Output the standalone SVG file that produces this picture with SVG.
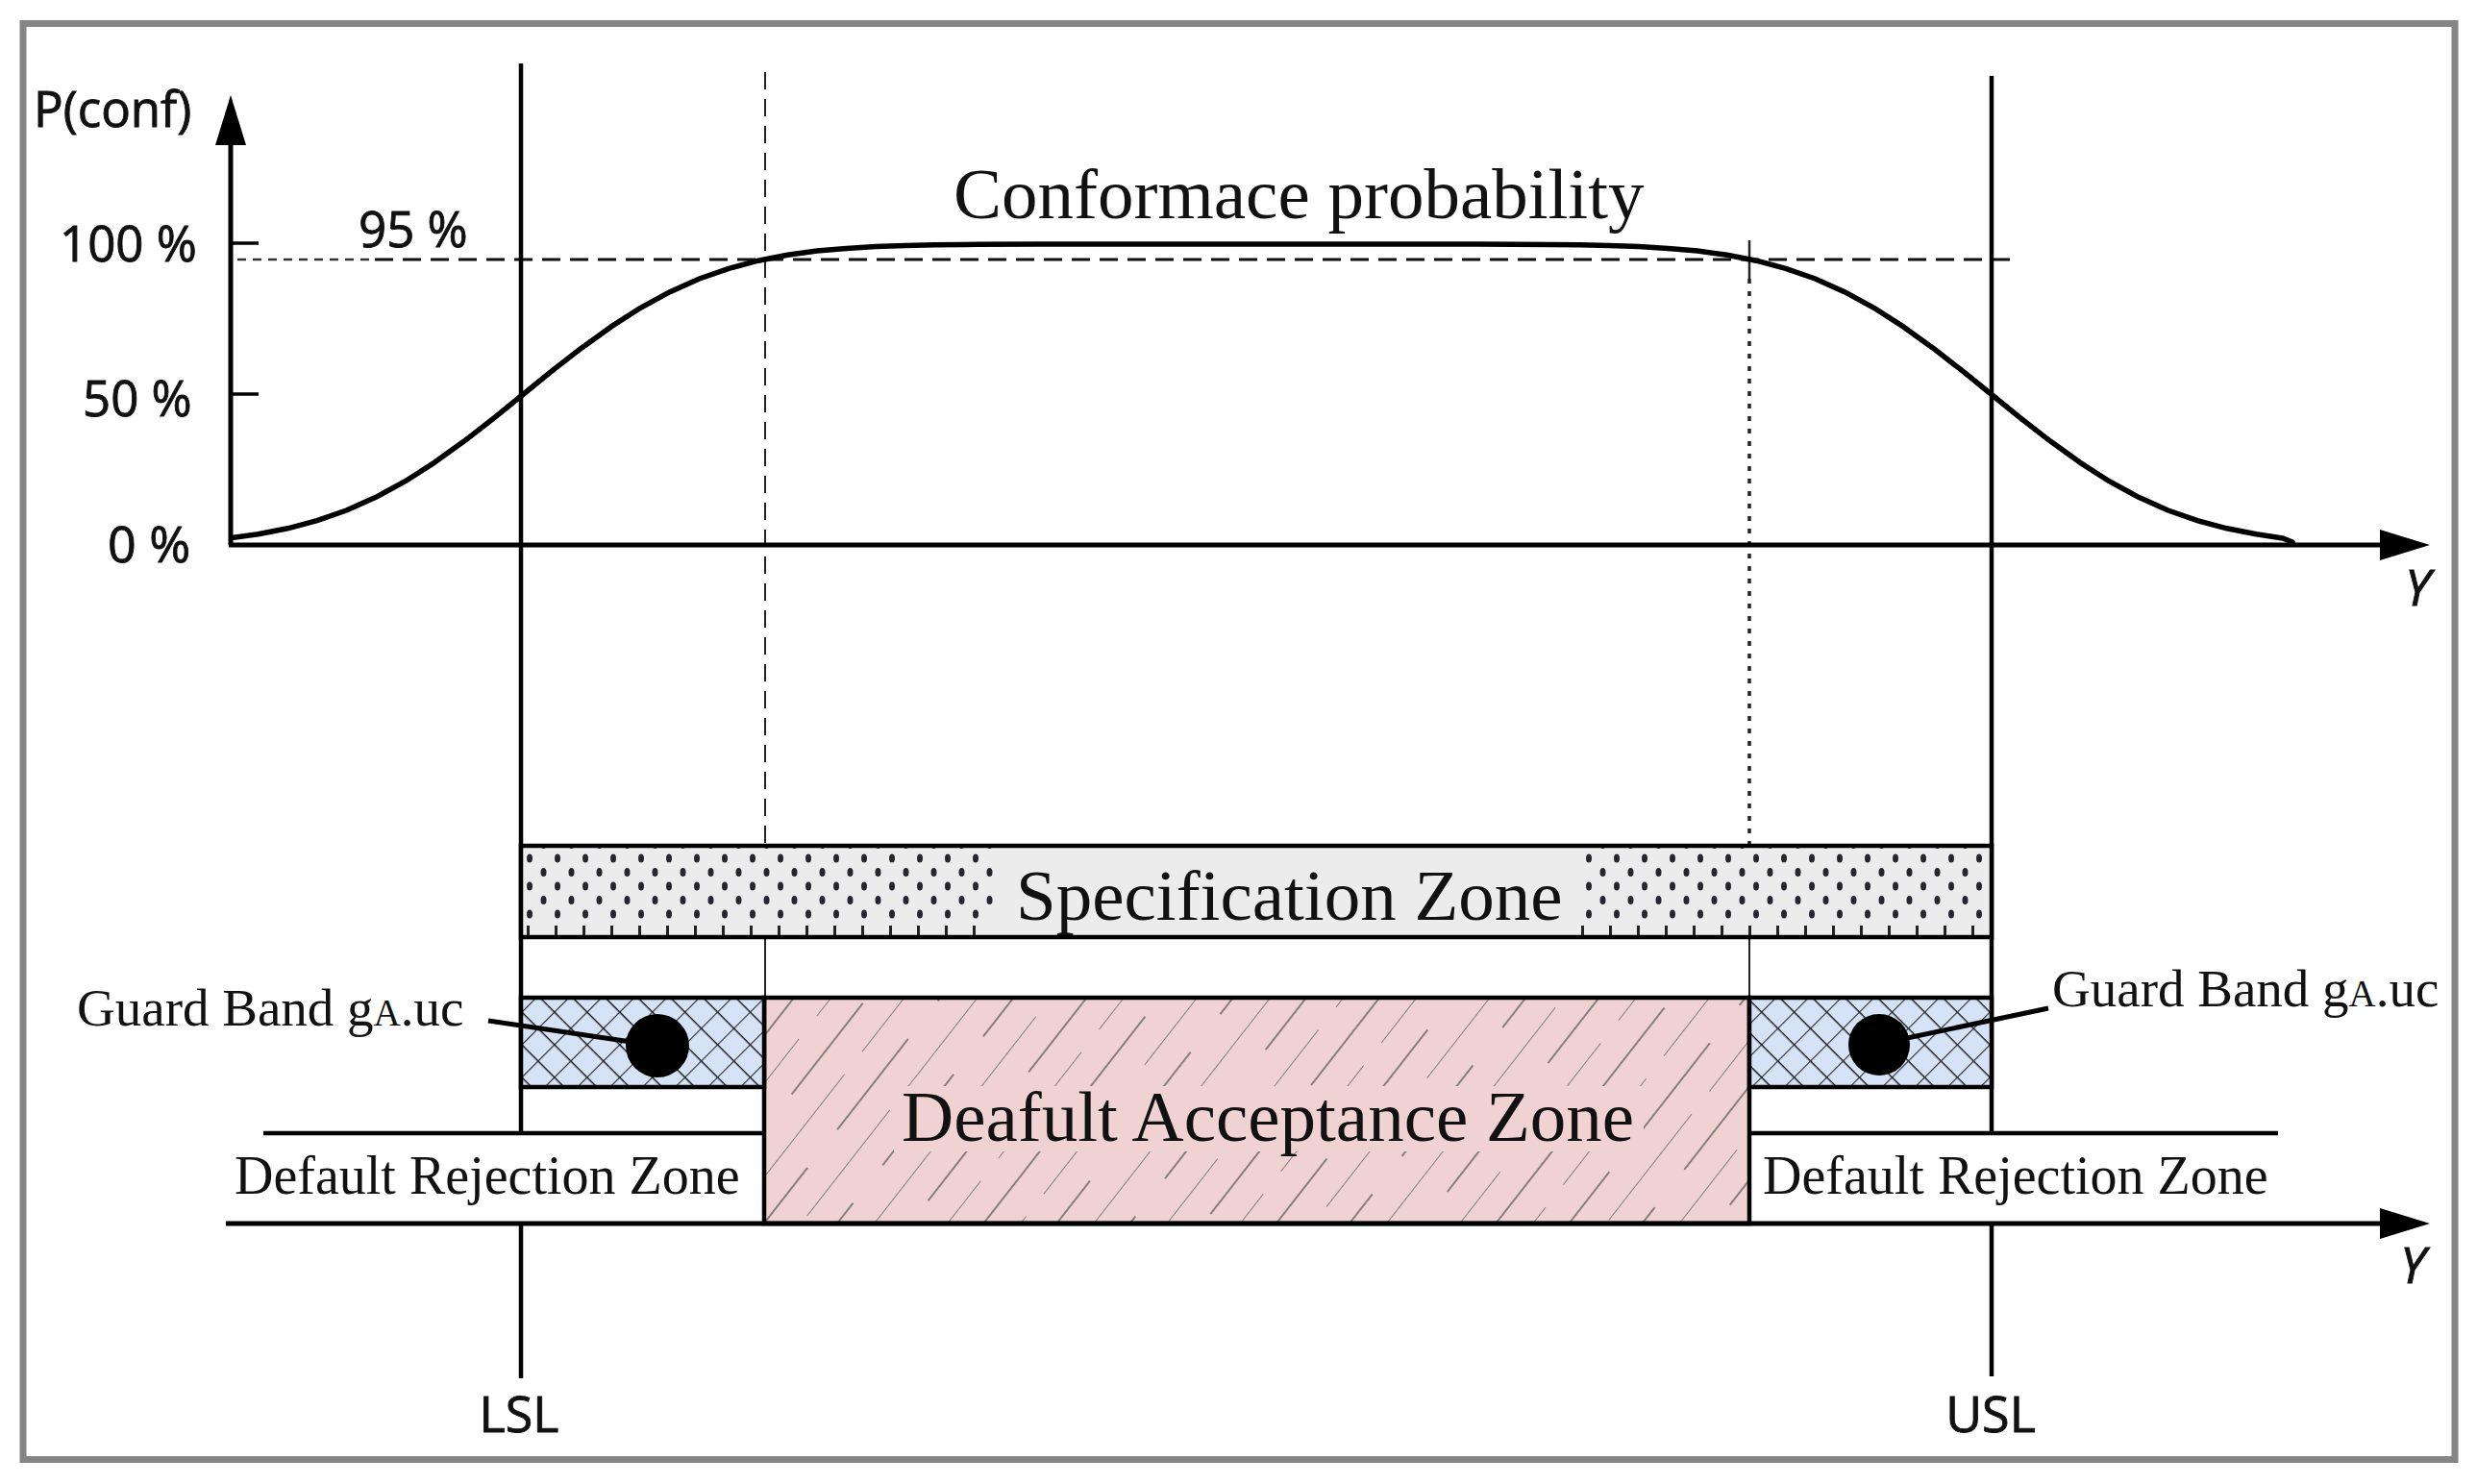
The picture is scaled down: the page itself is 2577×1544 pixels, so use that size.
<svg xmlns="http://www.w3.org/2000/svg" width="2577" height="1544" viewBox="0 0 2577 1544">
<style>
.serif{font-family:"Liberation Serif","Times New Roman",serif;fill:#111}
.sans{font-family:"Open Sans","Liberation Sans",sans-serif;fill:#111;stroke:#111;stroke-width:0.9}
.ax{stroke:#000;stroke-width:5;fill:none}
.lim{stroke:#000;stroke-width:4.5;fill:none}
.box{stroke:#000;stroke-width:4.5}
.thin{stroke:#222;stroke-width:2;fill:none}
</style>
<defs>
<marker id="arrow" viewBox="0 0 52 32" refX="32" refY="16" markerWidth="52" markerHeight="32" orient="auto" markerUnits="userSpaceOnUse">
<path d="M0,0 L52,16 L0,32 Z" fill="#000"/>
</marker>
<pattern id="dots" patternUnits="userSpaceOnUse" x="544" y="886" width="29" height="29">
<ellipse cx="7" cy="7" rx="3" ry="4.6" fill="#26262e"/>
<ellipse cx="21.5" cy="21.5" rx="3" ry="4.6" fill="#26262e"/>
</pattern>
<pattern id="cross" patternUnits="userSpaceOnUse" width="24" height="24" patternTransform="rotate(45)">
<rect width="24" height="24" fill="#d6e2f6"/>
<line x1="0" y1="0" x2="24" y2="0" stroke="#111" stroke-width="2.8"/>
<line x1="0" y1="0" x2="0" y2="24" stroke="#222" stroke-width="2.2"/>
</pattern>
<pattern id="hatch" patternUnits="userSpaceOnUse" width="60" height="170" patternTransform="rotate(38)">
<rect width="60" height="170" fill="#f0d2d3"/>
<line x1="0" y1="0" x2="0" y2="170" stroke="#5a5a5a" stroke-width="1.4" stroke-dasharray="140 30"/>
<line x1="30" y1="0" x2="30" y2="170" stroke="#5a5a5a" stroke-width="1.4" stroke-dasharray="120 50" stroke-dashoffset="70"/>
</pattern>
</defs>

<rect width="2577" height="1544" fill="#fff"/>
<rect id="frame" x="24" y="24.5" width="2530" height="1494" fill="#fff" stroke="#858585" stroke-width="7"/>

<g id="guides">
<line x1="796" y1="75" x2="796" y2="880" stroke="#222" stroke-width="2" stroke-dasharray="18 10"/>
<line x1="796" y1="976" x2="796" y2="1038" class="thin"/>
<line x1="1820" y1="250" x2="1820" y2="290" stroke="#222" stroke-width="2.5"/>
<line x1="1820" y1="290" x2="1820" y2="880" stroke="#222" stroke-width="3.5" stroke-dasharray="5 8"/>
<line x1="1820" y1="976" x2="1820" y2="1038" class="thin"/>
<line x1="247" y1="270" x2="390" y2="270" stroke="#333" stroke-width="2.5" stroke-dasharray="9 7"/>
<line x1="390" y1="270" x2="2100" y2="270" stroke="#111" stroke-width="3.2" stroke-dasharray="19 10"/>
</g>

<g id="axes">
<line x1="240" y1="567" x2="240" y2="119" class="ax" marker-end="url(#arrow)"/>
<line x1="238" y1="567" x2="2508" y2="567" class="ax" marker-end="url(#arrow)"/>
<line x1="241" y1="253" x2="269" y2="253" stroke="#000" stroke-width="3.5"/>
<line x1="241" y1="410" x2="269" y2="410" stroke="#000" stroke-width="3.5"/>
<text x="35" y="132" class="sans" font-size="51">P(conf)</text>
<text x="62" y="272" class="sans" font-size="51">100 %</text>
<text x="373" y="257" class="sans" font-size="51">95 %</text>
<text x="86" y="433" class="sans" font-size="51">50 %</text>
<text x="112" y="585" class="sans" font-size="52">0 %</text>
<text x="2502" y="630" class="sans" font-size="52" font-style="italic">Y</text>
</g>

<g id="limits">
<line x1="542" y1="66" x2="542" y2="1434" class="lim"/>
<line x1="2072" y1="79" x2="2072" y2="1432" class="lim"/>
<text x="540" y="1490" class="sans" font-size="52" text-anchor="middle" stroke-width="1.6">LSL</text>
<text x="2071" y="1490" class="sans" font-size="52" text-anchor="middle" stroke-width="1.6">USL</text>
</g>

<g id="curve">
<polyline fill="none" stroke="#000" stroke-width="5.5" stroke-linejoin="round" stroke-linecap="round" points="241,559.5 268.6,555.8 299.2,549.8 329.8,541.7 360.4,531 391,517.3 421.6,500.7 452.2,481.1 482.8,459.1 513.4,435.3 544,410.5 574.6,385.7 605.2,361.9 635.8,339.9 666.4,320.3 697,303.7 727.6,290 758.2,279.3 788.8,271.2 819.4,265.2 850,261.1 880.6,258.4 911.2,256.6 941.8,255.5 972.4,254.8 1003,254.4 1079.5,254.1 1536.5,254.1 1613,254.4 1643.6,254.8 1674.2,255.5 1704.8,256.6 1735.4,258.4 1766,261.1 1796.6,265.2 1827.2,271.2 1857.8,279.3 1888.4,290 1919,303.7 1949.6,320.3 1980.2,339.9 2010.8,361.9 2041.4,385.7 2072,410.5 2102.6,435.3 2133.2,459.1 2163.8,481.1 2194.4,500.7 2225,517.3 2255.6,531 2286.2,541.7 2316.8,549.8 2347.4,555.8 2375,560 2385,564"/>
<text x="992" y="227" class="serif" font-size="75">Conformace probability</text>
</g>

<g id="specification-zone">
<rect x="542" y="880" width="1530" height="95" fill="#ececec" class="box"/>
<rect x="546" y="882" width="494" height="78" fill="url(#dots)"/>
<rect x="1642" y="882" width="426" height="78" fill="url(#dots)"/>
<line x1="548" y1="968" x2="1040" y2="968" stroke="#222" stroke-width="10" stroke-dasharray="3 26"/>
<line x1="1645" y1="968" x2="2066" y2="968" stroke="#222" stroke-width="10" stroke-dasharray="3 26"/>
<text x="1057" y="957" class="serif" font-size="75">Specification Zone</text>
</g>

<g id="rejection-zone-left">
<rect x="274" y="1181" width="519" height="90" fill="#fff"/>
<line x1="274" y1="1179" x2="795" y2="1179" stroke="#000" stroke-width="4.5"/>
<text x="244" y="1242" class="serif" font-size="56">Default Rejection Zone</text>
</g>

<g id="rejection-zone-right">
<rect x="1822" y="1181" width="548" height="90" fill="#fff"/>
<line x1="1820" y1="1179" x2="2370" y2="1179" stroke="#000" stroke-width="4.5"/>
<text x="1834" y="1242" class="serif" font-size="56">Default Rejection Zone</text>
</g>

<g id="acceptance-zone">
<rect x="795" y="1038" width="1025" height="235" fill="url(#hatch)" class="box"/>
<rect x="930" y="1130" width="780" height="68" fill="#f0d2d3"/>
<text x="938" y="1187" class="serif" font-size="75">Deafult Acceptance Zone</text>
</g>

<g id="guard-band-left">
<rect x="542" y="1038" width="253" height="93" fill="url(#cross)" class="box"/>
<circle cx="684" cy="1088" r="33" fill="#000"/>
<text x="80" y="1067" class="serif" font-size="55">Guard Band g<tspan font-size="39">A</tspan>.uc</text>
</g>

<g id="guard-band-right">
<rect x="1820" y="1038" width="252" height="93" fill="url(#cross)" class="box"/>
<circle cx="1955" cy="1087" r="32" fill="#000"/>
<text x="2135" y="1047" class="serif" font-size="55">Guard Band g<tspan font-size="39">A</tspan>.uc</text>
</g>

<g id="lower-axis">
<line x1="235" y1="1273" x2="2508" y2="1273" class="ax" marker-end="url(#arrow)"/>
<text x="2497" y="1335" class="sans" font-size="52" font-style="italic">Y</text>
</g>

<g id="connectors">
<line x1="508" y1="1062" x2="670" y2="1086" stroke="#000" stroke-width="5"/>
<line x1="1965" y1="1084" x2="2131" y2="1049" stroke="#000" stroke-width="5"/>
</g>
</svg>
